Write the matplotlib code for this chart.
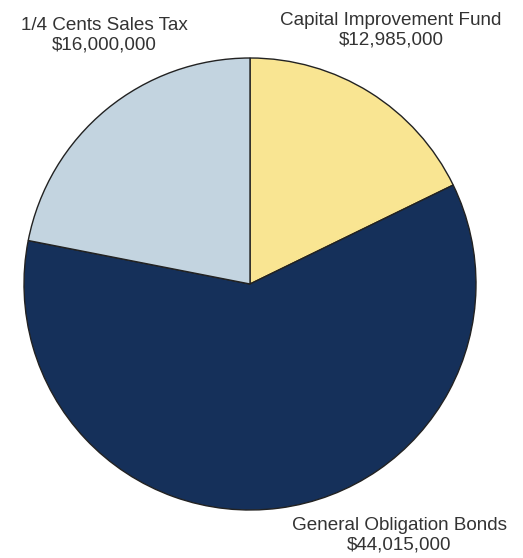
import matplotlib
matplotlib.use("Agg")
import matplotlib.pyplot as plt

labels = ["Capital Improvement Fund", "General Obligation Bonds", "1/4 Cents Sales Tax"]
values = [12985000, 44015000, 16000000]
colors = ["#F9E592", "#15305A", "#C3D4E0"]

W, H = 523, 558
fig = plt.figure(figsize=(W / 100, H / 100), dpi=100)
cx, cy, r = 250, 284, 226
ax = fig.add_axes([(cx - r) / W, (H - cy - r) / H, 2 * r / W, 2 * r / H])
ax.pie(values, colors=colors, startangle=90, counterclock=False,
       wedgeprops=dict(edgecolor="#222222", linewidth=1.0))
ax.set_xlim(-1, 1)
ax.set_ylim(-1, 1)
ax.set_aspect("equal")
ax.axis("off")

label_pos = [(391, 30), (399, 535), (104, 35)]
for lab, val, (x, y) in zip(labels, values, label_pos):
    fig.text(x / W, 1 - y / H, f"{lab}\n${val:,.0f}", ha="center", va="center",
             fontsize=13.6, color="#333333", family="Liberation Sans",
             linespacing=1.2)

fig.savefig("out.png", dpi=100)
